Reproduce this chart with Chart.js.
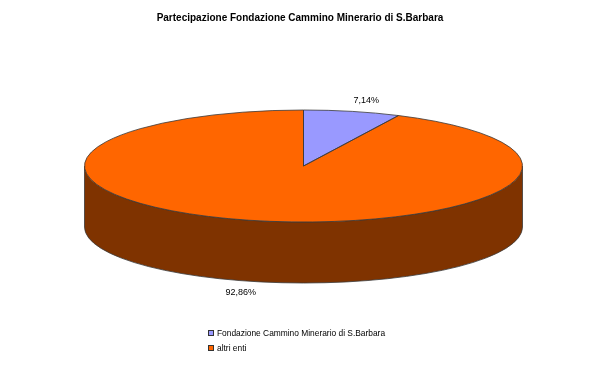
<!DOCTYPE html>
<html>
<head>
<meta charset="utf-8">
<script src="https://cdn.jsdelivr.net/npm/chart.js@4.4.1/dist/chart.umd.min.js"></script>
<style>
  html, body { margin: 0; padding: 0; background: #fff; }
  #wrap { width: 600px; height: 377px; }
</style>
</head>
<body>
<div id="wrap"><canvas id="pieChart" width="600" height="377"></canvas></div>
<script>
const chartTitle = 'Partecipazione Fondazione Cammino Minerario di S.Barbara';
const sliceLabels = ['Fondazione Cammino Minerario di S.Barbara', 'altri enti'];
const sliceValues = [7.14, 92.86];
const topColors = ['#9999FF', '#FF6600'];
const sideColors = ['#4C4C7F', '#7F3300'];

// 3d look: where the flattened pie sits on the page
const CX = 303.5, CY = 166, RX = 219, RY = 56, DEPTH = 61;
const EDGE = '#3a3a3a';
const FONT = '"Liberation Sans", Arial, sans-serif';

function fmtPct(v) {
    return v.toFixed(2).replace('.', ',') + '%';
}

const pie3d = {
    id: 'pie3d',
    beforeDatasetsDraw(chart) {
        const ctx = chart.ctx;
        const arcs = chart.getDatasetMeta(0).data;
        // front side walls
        arcs.forEach((arc, i) => {
            for (let k = -1; k <= 1; k++) {
                const lo = k * 2 * Math.PI, hi = lo + Math.PI;
                const a1 = Math.max(arc.startAngle, lo), a2 = Math.min(arc.endAngle, hi);
                if (a2 <= a1) continue;
                ctx.save();
                ctx.beginPath();
                ctx.ellipse(CX, CY, RX, RY, 0, a1, a2);
                ctx.ellipse(CX, CY + DEPTH, RX, RY, 0, a2, a1, true);
                ctx.closePath();
                ctx.fillStyle = sideColors[i];
                ctx.fill();
                ctx.lineWidth = 0.8;
                ctx.strokeStyle = EDGE;
                ctx.stroke();
                ctx.restore();
            }
        });
        // squash the pie for the top face
        const a = arcs[0];
        ctx.save();
        ctx.translate(CX, CY);
        ctx.scale(RX / a.outerRadius, RY / a.outerRadius);
        ctx.translate(-a.x, -a.y);
    },
    afterDatasetsDraw(chart) {
        const ctx = chart.ctx;
        const arcs = chart.getDatasetMeta(0).data;
        // outline of top slices, built in squashed space, stroked at 1px
        ctx.beginPath();
        arcs.forEach(arc => {
            ctx.moveTo(arc.x, arc.y);
            ctx.arc(arc.x, arc.y, arc.outerRadius, arc.startAngle, arc.endAngle);
            ctx.closePath();
        });
        ctx.restore();
        ctx.save();
        ctx.lineWidth = 0.8;
        ctx.strokeStyle = EDGE;
        ctx.stroke();

        // percent labels
        ctx.font = '9px ' + FONT;
        ctx.fillStyle = '#000';
        ctx.textAlign = 'center';
        ctx.textBaseline = 'middle';
        const total = sliceValues.reduce((s, v) => s + v, 0);
        arcs.forEach((arc, i) => {
            const mid = (arc.startAngle + arc.endAngle) / 2;
            const c = Math.cos(mid), s = Math.sin(mid);
            let px = CX + RX * c, py = CY + RY * s;
            if (s > 0) py += DEPTH;
            px += 14 * Math.sign(c);
            py += 10.5 * Math.sign(s);
            ctx.fillText(fmtPct(sliceValues[i] / total * 100), px, py);
        });

        // legend
        ctx.font = '8.4px ' + FONT;
        const lx = 208, ly = 333, step = 15;
        sliceLabels.forEach((lab, i) => {
            const y = ly + i * step;
            ctx.fillStyle = topColors[i];
            ctx.fillRect(lx, y - 3, 6, 6);
            ctx.lineWidth = 1;
            ctx.strokeStyle = '#333';
            ctx.strokeRect(lx + 0.5, y - 3 + 0.5, 5, 5);
            ctx.fillStyle = '#000';
            ctx.textAlign = 'left';
            ctx.fillText(lab, lx + 9, y + 0.5);
        });
        ctx.restore();
    }
};

new Chart(document.getElementById('pieChart'), {
    type: 'pie',
    data: {
        labels: sliceLabels,
        datasets: [{
            data: sliceValues,
            backgroundColor: topColors,
            borderWidth: 0
        }]
    },
    options: {
        responsive: false,
        animation: false,
        events: [],
        layout: { padding: { top: 0, bottom: 20, left: 20, right: 20 } },
        plugins: {
            legend: { display: false },
            tooltip: { enabled: false },
            title: {
                display: true,
                text: chartTitle,
                color: '#000',
                font: { family: FONT, size: 10, weight: 'bold' },
                padding: { top: 12, bottom: 10 }
            }
        }
    },
    plugins: [pie3d]
});
</script>
</body>
</html>
